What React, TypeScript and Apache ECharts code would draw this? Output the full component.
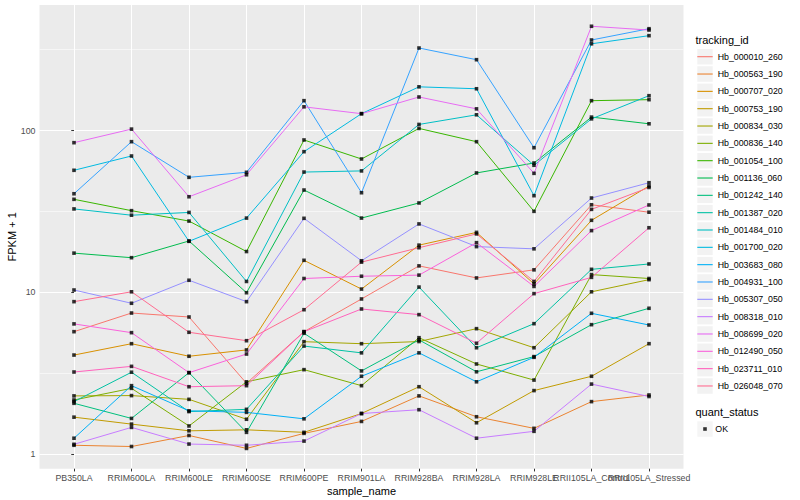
import React, { useEffect, useRef } from "react";
import * as echarts from "echarts";

const categories = [
  "PB350LA", "RRIM600LA", "RRIM600LE", "RRIM600SE", "RRIM600PE", "RRIM901LA",
  "RRIM928BA", "RRIM928LA", "RRIM928LE", "RRII105LA_Control", "RRII105LA_Stressed",
];

const trackingIds = [
  "Hb_000010_260", "Hb_000563_190", "Hb_000707_020", "Hb_000753_190", "Hb_000834_030",
  "Hb_000836_140", "Hb_001054_100", "Hb_001136_060", "Hb_001242_140", "Hb_001387_020",
  "Hb_001484_010", "Hb_001700_020", "Hb_003683_080", "Hb_004931_100", "Hb_005307_050",
  "Hb_008318_010", "Hb_008699_020", "Hb_012490_050", "Hb_023711_010", "Hb_026048_070",
];

const trackingColors = [
  "#F8766D", "#EA8331", "#D89000", "#C09B00", "#A3A500", "#7CAE00", "#39B600", "#00BB4E",
  "#00BF7D", "#00C1A3", "#00BFC4", "#00BAE0", "#00B0F6", "#35A2FF", "#9590FF", "#C77CFF",
  "#E76BF3", "#FA62DB", "#FF62BC", "#FF6C91",
];

// FPKM + 1 values per tracking id, one per sample (category order)
const hb000010_260 = [5.73, 7.47, 7.06, 2.75, 5.73, 9.12, 14.6, 12.3, 13.8, 34.8, 31.3];
const hb000563_190 = [1.14, 1.12, 1.31, 1.09, 1.35, 1.6, 2.3, 1.71, 1.45, 2.12, 2.33];
const hb000707_020 = [4.11, 4.83, 4.04, 4.42, 15.8, 10.5, 19.6, 23.5, 11.3, 27.9, 45.4];
const hb000753_190 = [1.7, 1.54, 1.4, 1.42, 1.37, 1.79, 2.62, 1.57, 2.48, 3.04, 4.83];
const hb000834_030 = [2.3, 2.31, 2.19, 1.65, 4.97, 4.83, 4.98, 5.98, 4.56, 10.1, 12.0];
const hb000836_140 = [2.17, 2.56, 1.5, 2.81, 3.34, 2.66, 5.26, 3.62, 2.88, 12.9, 12.2];
const hb001054_100 = [37.6, 32.0, 27.6, 17.9, 87.4, 66.7, 103, 85.3, 31.7, 152.8, 155];
const hb001136_060 = [17.5, 16.4, 20.8, 9.97, 42.9, 28.8, 35.7, 54.7, 63, 121, 110];
const hb001242_140 = [2.07, 1.67, 3.2, 1.37, 5.6, 3.28, 5.1, 3.24, 4.02, 6.33, 7.99];
const hb001387_020 = [2.12, 3.22, 1.84, 1.9, 4.67, 4.24, 10.8, 4.56, 6.42, 13.9, 15.0];
const hb001484_010 = [32.8, 30.0, 31.2, 11.7, 55.4, 56.3, 109, 125, 61, 118, 164];
const hb001700_020 = [56.8, 69.6, 20.7, 28.8, 74, 127, 186, 181, 39.6, 343, 385];
const hb003683_080 = [1.26, 2.66, 1.86, 1.82, 1.66, 3.04, 4.24, 2.81, 3.98, 7.44, 6.3];
const hb004931_100 = [40.7, 85.3, 51.4, 55.2, 152.8, 41.3, 323, 273.6, 78.3, 362, 425];
const hb005307_050 = [10.36, 8.58, 11.9, 8.78, 28.7, 15.7, 26.5, 19.2, 18.6, 38.3, 47.6];
const hb008318_010 = [1.156, 1.47, 1.16, 1.14, 1.21, 1.79, 1.89, 1.26, 1.39, 2.72, 2.28];
const hb008699_020 = [84.1, 102, 39, 53.3, 140, 127, 161, 136, 54.4, 440, 417];
const hb012490_050 = [6.4, 5.65, 3.2, 4.17, 12.2, 12.6, 12.8, 20.3, 10.9, 24.1, 34.7];
const hb023711_010 = [3.23, 3.5, 2.62, 2.66, 5.73, 7.91, 7.3, 4.86, 9.84, 12.4, 25.1];
const hb026048_070 = [8.78, 10.1, 5.68, 5.04, 7.83, 15.4, 18.9, 23.0, 11.7, 32.6, 44.5];

const trackingValues = [
  hb000010_260, hb000563_190, hb000707_020, hb000753_190, hb000834_030, hb000836_140,
  hb001054_100, hb001136_060, hb001242_140, hb001387_020, hb001484_010, hb001700_020,
  hb003683_080, hb004931_100, hb005307_050, hb008318_010, hb008699_020, hb012490_050,
  hb023711_010, hb026048_070,
];

const quantStatus = "OK";
const yTickValues = [1, 10, 100];
const yMinorBreaks = [3.1623, 31.623, 316.23];
const yMin = 0.8171;
const yMax = 595.3;
const xMin = -0.6;
const xMax = 10.6;

const FONT = '"Liberation Sans", Arial, Helvetica, sans-serif';

function buildOption() {
  const catIdx = categories.map((_, i) => i);
  // labels split over three axes so that overlapping neighbours are all kept, as in the reference
  const labelGroups = [catIdx.slice(0, 9), [9], [10]];

  const lineSeries = trackingIds.map((name, s) => ({
    type: "line",
    name,
    color: trackingColors[s],
    data: trackingValues[s].map((v, i) => [i, v]),
    showSymbol: false,
    symbol: "none",
    lineStyle: { width: 1, color: trackingColors[s] },
    emphasis: { disabled: true },
    silent: true,
    z: 2,
  }));
  const pointData: number[][] = [];
  trackingValues.forEach((vals) => vals.forEach((v, i) => pointData.push([i, v])));

  const pointSeries = {
    type: "scatter",
    name: quantStatus,
    data: pointData,
    symbol: "rect",
    symbolSize: 3.6,
    itemStyle: { color: "#000" },
    emphasis: { disabled: true },
    silent: true,
    z: 3,
    markLine: {
      silent: true,
      z: 1,
      symbol: "none",
      label: { show: false },
      emphasis: { disabled: true },
      lineStyle: { color: "#FFFFFF", width: 0.55, type: "solid" },
      data: yMinorBreaks.map((v) => ({ yAxis: v })),
    },
  };

  const xLabelStyle = {
    showMinLabel: true, showMaxLabel: true, hideOverlap: false,
    formatter: (v: number) => categories[Math.round(v)] ?? "",
    color: "#4D4D4D", fontSize: 8.8, margin: 4.5, fontFamily: FONT,
  };

  const xAxes = labelGroups.map((group, k) => ({
    type: "value", min: xMin, max: xMax, gridIndex: 0, position: "bottom", offset: 0,
    axisLine: { show: false },
    axisTick: k === 0
      ? { show: true, length: 2.75, lineStyle: { color: "#333333", width: 1 }, customValues: catIdx }
      : { show: false },
    axisLabel: { ...xLabelStyle, customValues: group },
    splitLine: k === 0 ? { show: true, lineStyle: { color: "#FFFFFF", width: 1.07 } } : { show: false },
    ...(k === 0
      ? {
          name: "sample_name", nameLocation: "middle", nameGap: 16.5, nameMoveOverlap: false,
          nameTextStyle: { fontSize: 11, color: "#000", fontFamily: FONT },
        }
      : {}),
  }));

  return {
    animation: false,
    backgroundColor: "#FFFFFF",
    textStyle: { fontFamily: FONT },
    title: [
      {
        text: "tracking_id", left: 695.5, top: 34.5, padding: 0,
        textStyle: { fontSize: 11, fontWeight: "normal", color: "#000", fontFamily: FONT },
      },
      {
        text: "quant_status", left: 695.5, top: 406, padding: 0,
        textStyle: { fontSize: 11, fontWeight: "normal", color: "#000", fontFamily: FONT },
      },
    ],
    grid: {
      left: 39.5, right: 116.5, top: 5, bottom: 31.3,
      show: true, backgroundColor: "#EBEBEB", borderWidth: 0,
      containLabel: false, outerBoundsMode: "none",
    },
    legend: [
      {
        data: trackingIds, orient: "vertical", left: 697.3, top: 48.95, padding: 0,
        itemWidth: 15.4, itemHeight: 15.5, itemGap: 1.83, icon: "rect",
        itemStyle: { color: "#F2F2F2", borderWidth: 0 },
        formatter: () => "", textStyle: { fontSize: 1 }, selectedMode: false, z: 4,
      },
      {
        data: trackingIds, orient: "vertical", left: 697.3, top: 48.7, padding: 0,
        itemWidth: 15.4, itemHeight: 1.1, itemGap: 1.33, icon: "rect",
        itemStyle: { borderWidth: 0 },
        textStyle: { fontSize: 8.8, lineHeight: 16, color: "#000", fontFamily: FONT },
        selectedMode: false, z: 5,
      },
      {
        data: [quantStatus], orient: "vertical", left: 697.3, top: 421.3, padding: 0,
        itemWidth: 15.4, itemHeight: 15.5, icon: "rect",
        itemStyle: { color: "#F2F2F2", borderWidth: 0 },
        formatter: () => "", textStyle: { fontSize: 1 }, selectedMode: false, z: 4,
      },
      {
        data: [quantStatus], orient: "vertical", left: 703.2, top: 421, padding: 0,
        itemWidth: 3.6, itemHeight: 3.6, icon: "rect",
        itemStyle: { borderWidth: 0 },
        formatter: "{a|{name}}",
        textStyle: {
          fontSize: 8.8, lineHeight: 16, color: "#000", fontFamily: FONT,
          rich: { a: { fontSize: 8.8, lineHeight: 16, color: "#000", fontFamily: FONT, padding: [0, 0, 0, 3.5] } },
        },
        selectedMode: false, z: 5,
      },
    ],
    xAxis: xAxes,
    yAxis: {
      type: "log", logBase: 10, min: yMin, max: yMax,
      axisLine: { show: false },
      axisTick: { show: true, length: 2.75, lineStyle: { color: "#333333", width: 1 }, customValues: yTickValues },
      axisLabel: {
        customValues: yTickValues,
        showMinLabel: true, showMaxLabel: true, hideOverlap: false,
        color: "#4D4D4D", fontSize: 8.8, margin: 4, fontFamily: FONT,
      },
      splitLine: { show: true, lineStyle: { color: "#FFFFFF", width: 1.07 } },
      minorSplitLine: { show: false },
      name: "FPKM + 1", nameLocation: "middle", nameGap: 22, nameMoveOverlap: false,
      nameTextStyle: { fontSize: 11, color: "#000", fontFamily: FONT },
    },
    series: [...lineSeries, pointSeries],
  };
}

export default function App() {
  const ref = useRef<HTMLDivElement>(null);
  useEffect(() => {
    if (!ref.current) return;
    const chart = echarts.init(ref.current, null, { renderer: "svg" });
    chart.setOption(buildOption() as any);
    return () => chart.dispose();
  }, []);
  return (
    <div
      ref={ref}
      style={{ position: "fixed", left: 0, top: 0, width: 800, height: 500, background: "#fff" }}
    />
  );
}
